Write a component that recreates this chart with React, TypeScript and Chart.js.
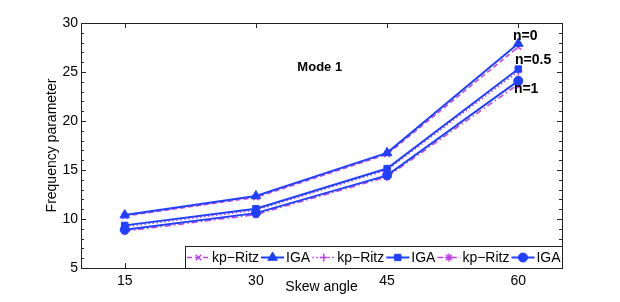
import React, { useEffect, useRef } from "react";
import { Chart, registerables } from "chart.js";
import { drawPoint } from "chart.js/helpers";

Chart.register(...registerables);

const skewAngles = [15, 30, 45, 60];
const xTickValues = [15, 30, 45, 60];
const yTickStep = 5;

const ritzN0 = [10.3, 12.2, 16.6, 27.55];
const igaN0 = [10.4, 12.35, 16.75, 27.9];
const ritzN05 = [9.2, 10.9, 15.0, 25.05];
const igaN05 = [9.35, 11.05, 15.15, 25.3];
const ritzN1 = [8.75, 10.45, 14.3, 23.75];
const igaN1 = [8.9, 10.6, 14.45, 24.1];

const seriesLabels = ["kp−Ritz", "IGA", "kp−Ritz", "IGA", "kp−Ritz", "IGA"];
const curveLabels = ["n=0", "n=0.5", "n=1"];
const curveLabelX = [60.8, 61.7, 60.9];
const curveLabelY = [28.65, 26.25, 23.3];
const titleText = "Mode 1";
const titleX = 37.3;
const titleY = 25.5;

const BLUE = "#2040ff";
const MAGENTA = "#c040f0";
const FONT = "'Liberation Sans', Arial, Helvetica, sans-serif";

const framePlugin = {
  id: "matlabFrame",
  afterDatasetsDraw(chart: any) {
    const { ctx, chartArea: a, scales } = chart;
    const xs = scales.x;
    const ys = scales.y;
    ctx.save();
    ctx.strokeStyle = "#262626";
    ctx.lineWidth = 1;
    ctx.beginPath();
    for (const v of xTickValues) {
      const px = Math.round(xs.getPixelForValue(v)) + 0.5;
      ctx.moveTo(px, a.bottom);
      ctx.lineTo(px, a.bottom - 5);
      ctx.moveTo(px, a.top);
      ctx.lineTo(px, a.top + 5);
    }
    for (let v = ys.min; v <= ys.max; v += 1) {
      const py = Math.round(ys.getPixelForValue(v)) + 0.5;
      const len = v % yTickStep === 0 ? 5 : 3;
      ctx.moveTo(a.left, py);
      ctx.lineTo(a.left + len, py);
      ctx.moveTo(a.right, py);
      ctx.lineTo(a.right - len, py);
    }
    ctx.stroke();
    ctx.strokeStyle = "#222";
    ctx.strokeRect(
      Math.round(a.left) + 0.5,
      Math.round(a.top) + 0.5,
      Math.round(a.right - a.left),
      Math.round(a.bottom - a.top)
    );
    ctx.restore();
  },
  afterDraw(chart: any) {
    const { ctx, chartArea: a, scales, data } = chart;
    const xs = scales.x;
    const ys = scales.y;
    ctx.save();
    ctx.fillStyle = "#000";
    ctx.textAlign = "center";
    ctx.textBaseline = "middle";
    ctx.font = `bold 14px ${FONT}`;
    curveLabels.forEach((t, i) => {
      ctx.fillText(t, xs.getPixelForValue(curveLabelX[i]), ys.getPixelForValue(curveLabelY[i]));
    });
    ctx.font = `bold 13px ${FONT}`;
    ctx.fillText(titleText, xs.getPixelForValue(titleX), ys.getPixelForValue(titleY));

    // legend
    ctx.font = `14px ${FONT}`;
    const sw = 25;
    const gapAfterSample = 1;
    const gapAfterText = 1;
    const pad = 1;
    let total = pad * 2;
    const widths = data.datasets.map((d: any) => ctx.measureText(d.label).width);
    widths.forEach((w: number, i: number) => {
      total += sw + gapAfterSample + w + (i < widths.length - 1 ? gapAfterText : 0);
    });
    const boxH = 22;
    const boxRight = Math.round(a.right);
    const boxBottom = Math.round(a.bottom);
    const boxLeft = boxRight - Math.round(total);
    const boxTop = boxBottom - boxH;
    ctx.fillStyle = "#fff";
    ctx.fillRect(boxLeft, boxTop, boxRight - boxLeft, boxH);
    ctx.strokeStyle = "#222";
    ctx.lineWidth = 1;
    ctx.strokeRect(boxLeft + 0.5, boxTop + 0.5, boxRight - boxLeft, boxH);
    const my = boxTop + boxH / 2 + 0.5;
    let cx = boxLeft + pad;
    data.datasets.forEach((d: any, i: number) => {
      ctx.save();
      ctx.strokeStyle = d.borderColor;
      ctx.lineWidth = d.borderWidth;
      ctx.setLineDash(d.borderDash || []);
      ctx.beginPath();
      ctx.moveTo(cx + 1, my);
      ctx.lineTo(cx + sw - 1, my);
      ctx.stroke();
      ctx.setLineDash([]);
      ctx.fillStyle = d.pointBackgroundColor;
      ctx.strokeStyle = d.pointBorderColor;
      ctx.lineWidth = d.pointBorderWidth;
      drawPoint(
        ctx,
        { pointStyle: d.pointStyle, radius: d.pointRadius, rotation: 0, borderWidth: d.pointBorderWidth },
        cx + sw / 2,
        my
      );
      ctx.restore();
      cx += sw + gapAfterSample;
      ctx.fillStyle = "#000";
      ctx.textAlign = "left";
      ctx.textBaseline = "middle";
      ctx.fillText(d.label, cx, my + 1);
      cx += widths[i] + gapAfterText;
    });
    ctx.restore();
  },
};

function makeSeries(values: number[]) {
  return values.map((v, i) => ({ x: skewAngles[i], y: v }));
}

export default function App() {
  const ref = useRef<HTMLCanvasElement>(null);
  useEffect(() => {
    if (!ref.current) return;
    const ritz = (vals: number[], label: string, style: string, dash: number[]) => ({
      label,
      data: makeSeries(vals),
      borderColor: MAGENTA,
      borderWidth: 1.5,
      borderDash: dash,
      pointStyle: style,
      pointRadius: 4,
      pointBackgroundColor: MAGENTA,
      pointBorderColor: MAGENTA,
      pointBorderWidth: 1.5,
      order: 2,
      fill: false,
    });
    const iga = (vals: number[], label: string, style: string, r: number) => ({
      label,
      data: makeSeries(vals),
      borderColor: BLUE,
      borderWidth: 2,
      borderDash: [],
      pointStyle: style,
      pointRadius: r,
      pointBackgroundColor: BLUE,
      pointBorderColor: BLUE,
      pointBorderWidth: 1,
      order: 1,
      fill: false,
    });
    const chart = new Chart(ref.current, {
      type: "line",
      data: {
        datasets: [
          ritz(ritzN0, seriesLabels[0], "crossRot", [5, 3]),
          iga(igaN0, seriesLabels[1], "triangle", 5.5),
          ritz(ritzN05, seriesLabels[2], "cross", [1.5, 2.5]),
          iga(igaN05, seriesLabels[3], "rect", 4.5),
          ritz(ritzN1, seriesLabels[4], "star", [6, 3, 1.5, 3]),
          iga(igaN1, seriesLabels[5], "circle", 4.5),
        ] as any,
      },
      options: {
        animation: false,
        responsive: false,
        events: [],
        layout: { padding: { top: 23, right: 58, left: 0, bottom: 0 } },
        plugins: { legend: { display: false }, tooltip: { enabled: false } },
        scales: {
          x: {
            type: "linear",
            min: 10,
            max: 65,
            afterBuildTicks: (s: any) => {
              s.ticks = xTickValues.map((v) => ({ value: v }));
            },
            afterFit: (s: any) => {
              s.height = 34;
            },
            grid: { display: false, drawTicks: false },
            border: { display: false },
            ticks: { color: "#000", font: { size: 14, family: FONT }, padding: 5, maxRotation: 0 },
            title: {
              display: true,
              text: "Skew angle",
              color: "#000",
              font: { size: 14, family: FONT },
              padding: { top: 0, bottom: 6 },
            },
          },
          y: {
            min: 5,
            max: 30,
            afterFit: (s: any) => {
              s.width = 81;
            },
            grid: { display: false, drawTicks: false },
            border: { display: false },
            ticks: { stepSize: yTickStep, color: "#000", font: { size: 14, family: FONT }, padding: 3 },
            title: {
              display: true,
              text: "Frequency parameter",
              color: "#000",
              font: { size: 14, family: FONT },
              padding: { top: 44, bottom: 0 },
            },
          },
        },
      } as any,
      plugins: [framePlugin],
    });
    return () => chart.destroy();
  }, []);
  return (
    <div style={{ position: "fixed", left: 0, top: 0, width: 620, height: 302, background: "#fff" }}>
      <canvas ref={ref} width={620} height={302} />
    </div>
  );
}
